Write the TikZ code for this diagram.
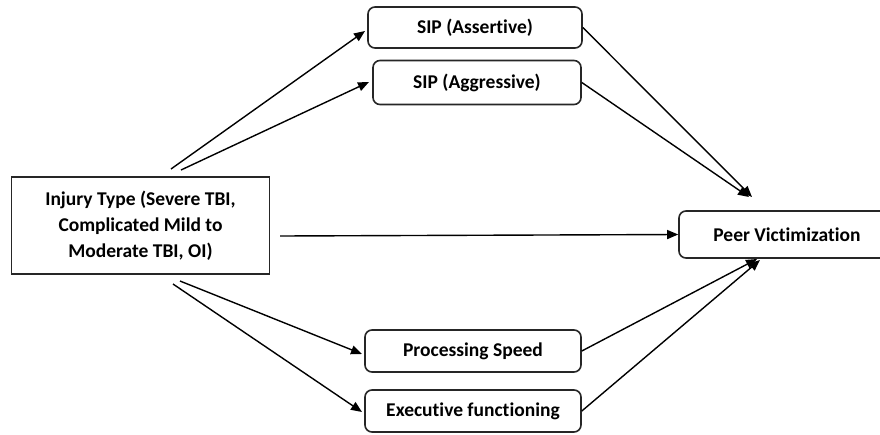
\documentclass[tikz,border=0pt]{standalone}
\usepackage{fontspec}
\setmainfont{Carlito}[Ligatures=NoCommon]
\usetikzlibrary{arrows.meta}
\begin{document}
\begin{tikzpicture}[x=1pt,y=-1pt,
  box/.style={draw=black!85,line width=1.6pt,rounded corners=7pt,align=center,font=\fontsize{19.5}{26}\selectfont\bfseries,inner sep=0pt},
  sqbox/.style={draw=black!85,line width=1.6pt,align=center,font=\fontsize{19.5}{26}\selectfont\bfseries,inner sep=0pt},
  arr/.style={line width=1.4pt,-{Triangle[length=11pt,width=9pt]}}]
\useasboundingbox (0,0) rectangle (880,434);
\node[sqbox,minimum width=258pt,minimum height=97pt] (inj) at (140.5,225.5) {Injury Type (Severe TBI,\\Complicated Mild to\\Moderate TBI, OI)};
\node[box,minimum width=214pt,minimum height=41pt] (sa) at (475,27.5) {SIP (Assertive)};
\node[box,minimum width=208pt,minimum height=44pt] (sg) at (477,82.5) {SIP (Aggressive)};
\node[box,minimum width=216pt,minimum height=47pt] (pv) at (787,234.5) {Peer Victimization};
\node[box,minimum width=216pt,minimum height=42pt] (ps) at (473,351) {Processing Speed};
\node[box,minimum width=216pt,minimum height=42pt] (ef) at (473,411) {Executive functioning};
\coordinate (i1) at (171,169);
\coordinate (i2) at (181,170);
\coordinate (i3) at (180,281);
\coordinate (i4) at (173,284);
\draw[arr] (i1) -- (365,31);
\draw[arr] (i2) -- (369,82);
\draw[arr] (280,236) -- (pv.west);
\draw[arr] (i3) -- (362,354);
\draw[arr] (i4) -- (362,412);
\draw[arr] (sa.east) -- (752,197);
\draw[arr] (sg.east) -- (749,197);
\draw[arr] (ps.east) -- (757,259);
\draw[arr] (ef.east) -- (760,260);
\end{tikzpicture}
\end{document}
